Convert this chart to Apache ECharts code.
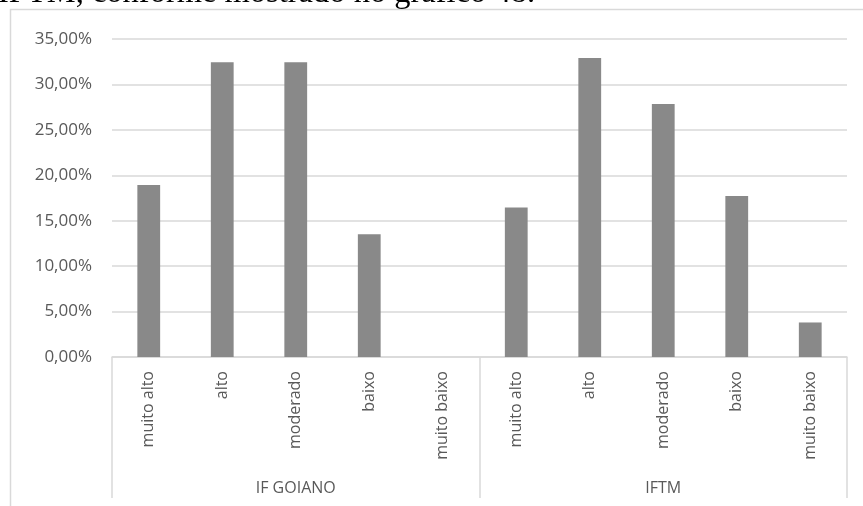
<!DOCTYPE html>
<html>
<head>
<meta charset="utf-8">
<script src="https://cdn.jsdelivr.net/npm/echarts@6/dist/echarts.min.js"></script>
<style>
  html, body { margin: 0; padding: 0; background: #fff; }
  #chart { width: 863px; height: 506px; }
</style>
</head>
<body>
<div id="chart"></div>
<script>
// Levels of the inner category axis, repeated for each institution
const levels = ['muito alto', 'alto', 'moderado', 'baixo', 'muito baixo'];
const institutions = ['IF GOIANO', 'IFTM'];

// Share of answers per level (%)
const ifGoiano = [18.92, 32.43, 32.43, 13.51, 0];
const iftm = [16.46, 32.91, 27.85, 17.72, 3.80];

// Value axis ticks (%)
const yTicks = [0, 5, 10, 15, 20, 25, 30, 35];

const categories = institutions.flatMap(() => levels);
const values = ifGoiano.concat(iftm);

const labelColor = '#595959';
const lineColor = '#d9d9d9';
const uiFont = '"Open Sans", "Noto Sans", sans-serif';

const chart = echarts.init(document.getElementById('chart'), null, { renderer: 'canvas' });

chart.setOption({
  animation: false,
  backgroundColor: '#ffffff',
  grid: { left: 112, right: 16, top: 39, bottom: 149, containLabel: false },
  graphic: [
    {
      type: 'rect',
      shape: { x: 10.5, y: 9.5, width: 900, height: 600 },
      style: { fill: 'none', stroke: lineColor, lineWidth: 1.5 },
      z: -1
    },
    {
      // Tail of the preceding paragraph, running above the chart frame
      type: 'text',
      x: -2,
      y: 10,
      style: {
        text: 'IFTM, conforme mostrado no gráfico 48.',
        font: '32.5px "Liberation Serif", "Times New Roman", serif',
        fill: '#000000',
        verticalAlign: 'bottom'
      }
    }
  ],
  xAxis: [
    {
      type: 'category',
      data: categories,
      position: 'bottom',
      axisLine: { show: true, lineStyle: { color: lineColor, width: 1.5 } },
      axisTick: { show: false },
      axisLabel: {
        rotate: 90,
        color: labelColor,
        fontFamily: uiFont,
        fontSize: 16,
        margin: 14,
        interval: 0
      },
      splitLine: { show: false }
    },
    {
      type: 'category',
      data: institutions,
      position: 'bottom',
      offset: 0,
      axisLine: { show: false },
      axisTick: {
        show: true,
        length: 141,
        inside: false,
        lineStyle: { color: lineColor, width: 1.5 }
      },
      axisLabel: {
        color: labelColor,
        fontFamily: uiFont,
        fontSize: 16,
        margin: 123,
        interval: 0
      },
      splitLine: { show: false }
    }
  ],
  yAxis: {
    type: 'value',
    min: yTicks[0],
    max: yTicks[yTicks.length - 1],
    interval: yTicks[1] - yTicks[0],
    axisLine: { show: false },
    axisTick: { show: false },
    axisLabel: {
      color: labelColor,
      fontFamily: uiFont,
      fontSize: 17,
      margin: 20,
      formatter: v => v.toFixed(2).replace('.', ',') + '%'
    },
    splitLine: { lineStyle: { color: lineColor, width: 1.5 } }
  },
  series: [
    {
      type: 'bar',
      xAxisIndex: 0,
      data: values,
      barWidth: '31%',
      itemStyle: { color: '#898989' },
      emphasis: { disabled: true }
    }
  ]
});
</script>
</body>
</html>
